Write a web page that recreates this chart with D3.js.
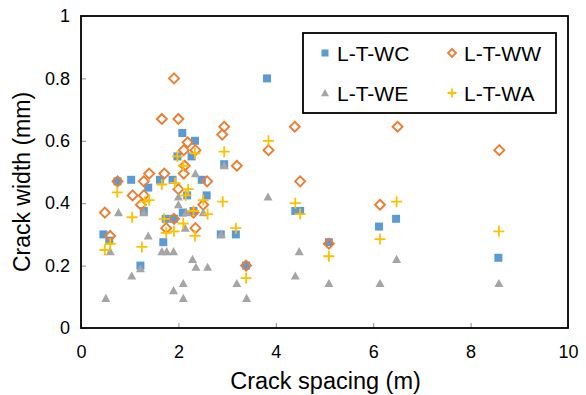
<!DOCTYPE html>
<html><head><meta charset="utf-8">
<script src="https://cdn.jsdelivr.net/npm/d3@7"></script>
<style>body{margin:0;background:#fff}svg{display:block;font-family:Arial,"Liberation Sans",sans-serif}</style>
</head><body><svg id="c" width="586" height="395"></svg>
<script>
const xTicks=[0,2,4,6,8,10];
const yTicks=[0,0.2,0.4,0.6,0.8,1];
const yTickLabels=["0","0.2","0.4","0.6","0.8","1"];
const seriesNames=["L-T-WC","L-T-WW","L-T-WE","L-T-WA"];
const wcX=[0.46,0.58,0.75,1.03,1.22,1.29,1.38,1.62,1.69,1.74,1.88,1.91,1.98,2.08,2.09,2.18,2.27,2.31,2.34,2.48,2.58,2.87,2.94,3.18,3.39,3.82,4.40,4.50,5.09,6.12,6.47,8.57];
const wcY=[0.30,0.28,0.47,0.475,0.20,0.375,0.45,0.475,0.275,0.35,0.475,0.35,0.55,0.625,0.37,0.425,0.55,0.375,0.60,0.475,0.425,0.30,0.525,0.30,0.20,0.80,0.375,0.375,0.275,0.325,0.35,0.225];
const wwX=[0.49,0.60,0.75,1.06,1.23,1.29,1.29,1.40,1.66,1.71,1.75,1.91,1.91,2.00,2.00,2.11,2.11,2.13,2.19,2.31,2.35,2.35,2.51,2.59,2.90,2.94,3.20,3.39,3.85,4.39,4.50,5.09,6.14,6.50,8.59];
const wwY=[0.37,0.295,0.47,0.425,0.395,0.47,0.425,0.495,0.67,0.495,0.32,0.80,0.35,0.67,0.445,0.57,0.495,0.52,0.595,0.37,0.57,0.32,0.395,0.47,0.62,0.645,0.52,0.20,0.57,0.645,0.47,0.27,0.395,0.645,0.57];
const weX=[0.51,0.60,0.77,1.04,1.22,1.29,1.38,1.66,1.76,1.90,1.90,2.00,2.00,2.10,2.10,2.14,2.16,2.29,2.35,2.36,2.51,2.60,2.88,2.94,3.20,3.40,3.84,4.40,4.48,5.09,6.14,6.48,8.58];
const weY=[0.095,0.245,0.37,0.167,0.19,0.37,0.295,0.245,0.245,0.245,0.12,0.42,0.395,0.143,0.095,0.32,0.37,0.22,0.495,0.195,0.37,0.195,0.30,0.52,0.143,0.095,0.42,0.167,0.245,0.143,0.143,0.22,0.143];
const waX=[0.49,0.60,0.745,1.05,1.25,1.31,1.40,1.66,1.71,1.75,1.91,1.93,1.98,2.10,2.10,2.15,2.20,2.31,2.34,2.34,2.51,2.60,2.91,2.94,3.18,3.39,3.85,4.40,4.50,5.09,6.14,6.48,8.58];
const waY=[0.25,0.27,0.435,0.355,0.26,0.405,0.41,0.46,0.35,0.305,0.31,0.465,0.55,0.52,0.335,0.425,0.445,0.375,0.56,0.295,0.41,0.365,0.405,0.565,0.32,0.16,0.60,0.40,0.365,0.23,0.285,0.405,0.31];

const svg=d3.select("#c");
const L=81,R=568,T=16,B=328;
const x=d3.scaleLinear().domain([0,10]).range([L,R]);
const y=d3.scaleLinear().domain([0,1]).range([B,T]);

// ticks (inward)
const gx=svg.append("g").attr("transform",`translate(0,${B})`)
  .call(d3.axisBottom(x).tickValues(xTicks).tickSize(-5).tickPadding(17).tickFormat(d3.format("d")));
const gy=svg.append("g").attr("transform",`translate(${L},0)`)
  .call(d3.axisLeft(y).tickValues(yTicks).tickSize(-5).tickPadding(11).tickFormat((d,i)=>yTickLabels[i]));
[gx,gy].forEach(g=>{
  g.select(".domain").remove();
  g.selectAll(".tick line").attr("stroke","#8c8c8c").attr("stroke-width",1);
  g.selectAll(".tick text").attr("font-size",18).attr("fill","#000").attr("font-family","Arial, 'Liberation Sans', sans-serif");
});

// frame
svg.append("rect").attr("x",L).attr("y",T).attr("width",R-L).attr("height",B-T)
  .attr("fill","none").attr("stroke","#000").attr("stroke-width",1.8);

const cols=["#5B9BD5","#ED7D31","#A5A5A5","#FFC000"];
function marker(g,type,s){
  if(type===0) g.append("rect").attr("x",-s/2).attr("y",-s/2).attr("width",s).attr("height",s).attr("fill",cols[0]);
  else if(type===1) g.append("path").attr("d",`M0,${-s/2}L${s/2},0L0,${s/2}L${-s/2},0Z`).attr("fill","#fff").attr("fill-opacity",0).attr("stroke",cols[1]).attr("stroke-width",1.9);
  else if(type===2) g.append("path").attr("d",`M0,${-s*0.5}L${s*0.5},${s*0.4}L${-s*0.5},${s*0.4}Z`).attr("fill",cols[2]);
  else g.append("path").attr("d",`M${-s/2},0H${s/2}M0,${-s/2}V${s/2}`).attr("stroke",cols[3]).attr("stroke-width",1.8);
}
const data=[[wcX,wcY],[wwX,wwY],[weX,weY],[waX,waY]];
const sizes=[8,10,9,11];
data.forEach(([xs,ys],k)=>{
  const g=svg.append("g");
  xs.forEach((v,i)=>{
    const m=g.append("g").attr("transform",`translate(${x(v)},${y(ys[i])})`);
    marker(m,k,sizes[k]);
  });
});

// legend
const lg=svg.append("g");
lg.append("rect").attr("x",303).attr("y",33).attr("width",253).attr("height",80)
  .attr("fill","#fff").attr("stroke","#000").attr("stroke-width",1.8);
const lpos=[[325,53],[452,53],[325,93],[452,93]];
const lsizes=[7,8,8,9];
seriesNames.forEach((n,k)=>{
  const m=lg.append("g").attr("transform",`translate(${lpos[k][0]},${lpos[k][1]})`);
  marker(m,k,lsizes[k]);
  lg.append("text").attr("x",lpos[k][0]+12).attr("y",lpos[k][1]+7.5).attr("font-size",21).attr("fill","#000").text(n);
});

// axis titles
svg.append("text").attr("x",(L+R)/2+1).attr("y",389).attr("text-anchor","middle").attr("font-size",23.5).attr("fill","#000").text("Crack spacing (m)");
svg.append("text").attr("transform",`translate(30,${(T+B)/2+10}) rotate(-90)`).attr("text-anchor","middle").attr("font-size",23).attr("fill","#000").text("Crack width (mm)");
</script></body></html>
